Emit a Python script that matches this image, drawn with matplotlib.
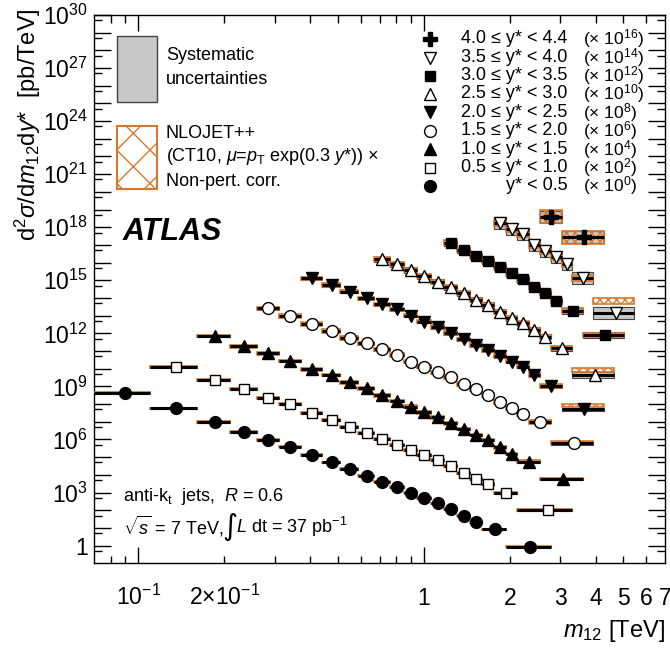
import numpy as np
import matplotlib
matplotlib.use('Agg')
import matplotlib.pyplot as plt
import matplotlib.transforms as mtransforms
from matplotlib.patches import Rectangle
from matplotlib.ticker import FixedLocator, FuncFormatter, NullFormatter

plt.rcParams['font.family'] = ['Liberation Sans', 'DejaVu Sans']
plt.rcParams['mathtext.fontset'] = 'custom'
plt.rcParams['mathtext.rm'] = 'Liberation Sans'
plt.rcParams['mathtext.it'] = 'Liberation Sans:italic'
plt.rcParams['mathtext.bf'] = 'Liberation Sans:bold'
plt.rcParams['hatch.linewidth'] = 1.0

# y* bins and the scale factor (10^n) each one is drawn with
ystar_lo = [0.0, 0.5, 1.0, 1.5, 2.0, 2.5, 3.0, 3.5, 4.0]
ystar_hi = [0.5, 1.0, 1.5, 2.0, 2.5, 3.0, 3.5, 4.0, 4.4]
scale_exp = [0, 2, 4, 6, 8, 10, 12, 14, 16]

# mass bin edges [TeV] and cross sections [pb/TeV] (unscaled)
edges_0 = [0.07, 0.11, 0.16, 0.21, 0.26, 0.31, 0.37, 0.44, 0.51, 0.59, 0.67, 0.76, 0.85, 0.95, 1.06, 1.18, 1.31, 1.45, 1.60, 1.94, 2.78]
xsec_0 = [4.4e8, 5.75e7, 1.0e7, 2.63e6, 9.3e5, 3.89e5, 1.32e5, 5.0e4, 2.09e4, 9.1e3, 4.17e3, 2.0e3, 980, 480, 245, 117, 49, 20.9, 8.3, 0.87]

edges_1 = [0.11, 0.16, 0.21, 0.26, 0.31, 0.37, 0.44, 0.51, 0.59, 0.67, 0.76, 0.85, 0.95, 1.06, 1.18, 1.31, 1.45, 1.60, 1.76, 2.12, 3.31]
xsec_1 = [1.29e8, 2.29e7, 6.9e6, 2.29e6, 9.8e5, 3.24e5, 1.26e5, 5.2e4, 2.34e4, 1.07e4, 5.1e3, 2.5e3, 1.29e3, 660, 316, 132, 57.5, 29.5, 9.1, 1.02]

edges_2 = [0.16, 0.21, 0.26, 0.31, 0.37, 0.44, 0.51, 0.59, 0.67, 0.76, 0.85, 0.95, 1.06, 1.18, 1.31, 1.45, 1.60, 1.76, 1.94, 2.12, 2.55, 3.61]
xsec_2 = [7.1e7, 1.9e7, 7.4e6, 2.75e6, 9.5e5, 4.4e5, 1.7e5, 7.8e4, 3.2e4, 1.48e4, 7.1e3, 3.5e3, 1.78e3, 813, 389, 178, 93, 36, 15.1, 5.5, 0.56]

edges_3 = [0.26, 0.31, 0.37, 0.44, 0.51, 0.59, 0.67, 0.76, 0.85, 0.95, 1.06, 1.18, 1.31, 1.45, 1.60, 1.76, 1.94, 2.12, 2.33, 2.78, 3.93]
xsec_3 = [2.57e7, 9.5e6, 3.39e6, 1.35e6, 5.6e5, 2.75e5, 1.26e5, 5.9e4, 2.51e4, 1.29e4, 6.3e3, 3.39e3, 1.35e3, 708, 324, 135, 57.5, 26.3, 10.0, 0.60]

edges_4 = [0.37, 0.44, 0.51, 0.59, 0.67, 0.76, 0.85, 0.95, 1.06, 1.18, 1.31, 1.45, 1.60, 1.76, 1.94, 2.12, 2.33, 2.55, 3.04, 4.27]
xsec_4 = [1.29e7, 5.4e6, 2.24e6, 9.5e5, 4.4e5, 2.29e5, 1.0e5, 4.6e4, 2.34e4, 1.05e4, 4.5e3, 2.19e3, 1.15e3, 525, 251, 129, 43.7, 10.5, 0.50]

edges_5 = [0.67, 0.76, 0.85, 0.95, 1.06, 1.18, 1.31, 1.45, 1.60, 1.76, 1.94, 2.12, 2.33, 2.55, 2.78, 3.31, 4.64]
xsec_5 = [1.58e6, 7.9e5, 3.8e5, 1.66e5, 8.3e4, 4.0e4, 1.82e4, 7.9e3, 4.0e3, 1.66e3, 708, 372, 155, 64.6, 14.1, 0.44]

edges_6 = [1.18, 1.31, 1.45, 1.60, 1.76, 1.94, 2.12, 2.33, 2.55, 2.78, 3.04, 3.61, 5.04]
xsec_6 = [1.32e5, 5.1e4, 2.34e4, 1.23e4, 5.9e3, 2.45e3, 1.12e3, 437, 200, 69, 19.1, 0.79]

edges_7 = [1.76, 1.94, 2.12, 2.33, 2.55, 2.78, 3.04, 3.31, 3.93, 5.47]
xsec_7 = [1.66e4, 7.6e3, 4.0e3, 977, 468, 214, 83, 12.9, 0.148]

edges_8 = [2.55, 3.04, 4.27]
xsec_8 = [389, 27]

# box half-heights as multiplicative factors, and NLO/data ratio of the last bin
sys_factor = [1.1, 1.12, 1.15, 1.2, 1.25, 1.4, 1.5, 2.2, 2.2]
nlo_factor = [1.1, 1.12, 1.2, 1.25, 1.25, 1.3, 1.35, 1.5, 2.3]
nlo_last_ratio = [1.0, 1.0, 1.05, 1.15, 1.7, 1.9, 1.0, 4.5, 1.0]

edges = [edges_0, edges_1, edges_2, edges_3, edges_4, edges_5, edges_6, edges_7, edges_8]
xsecs = [xsec_0, xsec_1, xsec_2, xsec_3, xsec_4, xsec_5, xsec_6, xsec_7, xsec_8]

markers = ['o', 's', '^', 'o', 'v', '^', 's', 'v', 'P']
filled = [True, False, True, False, True, False, True, False, True]
msizes = [8.5, 7.5, 9, 8.5, 9, 9, 7.5, 9, 9.5]

orange = '#d9782c'
gray = '#c8c8c8'

fig = plt.figure(figsize=(6.7, 6.54), dpi=100)
ax = fig.add_axes([0.1407, 0.1387, 0.8518, 0.8384])
ax.set_xscale('log')
ax.set_yscale('log')

for i in range(9):
    e = np.array(edges[i])
    lo, hi = e[:-1], e[1:]
    x = 0.5 * (lo + hi)
    y = np.array(xsecs[i]) * 10.0 ** scale_exp[i]
    # systematic uncertainties
    ax.bar(lo, y * sys_factor[i] - y / sys_factor[i], width=hi - lo, bottom=y / sys_factor[i],
           align='edge', color=gray, edgecolor='#444444', linewidth=0.8, zorder=2)
    # NLO prediction
    ratio = np.ones(len(y))
    ratio[-1] = nlo_last_ratio[i]
    yt = y * ratio
    ax.bar(lo, yt * nlo_factor[i] - yt / nlo_factor[i], width=hi - lo, bottom=yt / nlo_factor[i],
           align='edge', facecolor='none', edgecolor=orange, hatch='xxxx', linewidth=1.2, zorder=3)
    ax.errorbar(x, y, xerr=[x - lo, hi - x], fmt=markers[i], ms=msizes[i],
                mfc='black' if filled[i] else 'white', mec='black', mew=1.0,
                ecolor='black', elinewidth=2.2, capsize=0, zorder=4)

ax.set_xlim(0.07, 7.0)
ax.set_ylim(0.1, 1e30)

# axis ticks in ROOT style
ax.xaxis.set_major_locator(FixedLocator([0.1, 1.0]))
ax.xaxis.set_minor_locator(FixedLocator([0.08, 0.09, 0.2, 0.3, 0.4, 0.5, 0.6, 0.7, 0.8, 0.9, 2, 3, 4, 5, 6]))
ax.xaxis.set_major_formatter(NullFormatter())
ax.xaxis.set_minor_formatter(NullFormatter())

ax.yaxis.set_major_locator(FixedLocator([10.0 ** n for n in range(0, 31)]))
ax.yaxis.set_minor_locator(FixedLocator([5 * 10.0 ** n for n in range(-1, 30)]))


def ylab(v, pos):
    n = int(round(np.log10(v)))
    if n % 3:
        return ''
    if n == 0:
        return '1'
    return r'$10^{%d}$' % n


ax.yaxis.set_major_formatter(FuncFormatter(ylab))
ax.yaxis.set_minor_formatter(NullFormatter())
ax.tick_params(which='both', direction='in', top=True, right=True, width=1.0)
ax.tick_params(axis='y', which='major', length=12.2, labelsize=16.5, pad=4.5)
ax.tick_params(axis='y', which='minor', length=5.8)
ax.tick_params(axis='x', which='major', length=11.5)
ax.tick_params(axis='x', which='minor', length=5.4)
for s in ax.spines.values():
    s.set_linewidth(1.0)

xlab_pos = [0.1, 0.2, 1, 2, 3, 4, 5, 6, 7]
xlab_txt = [r'$10^{-1}$', r'$2{\times}10^{-1}$', '1', '2', '3', '4', '5', '6', '7']
trans = mtransforms.blended_transform_factory(ax.transData, ax.transAxes)
for p, t in zip(xlab_pos, xlab_txt):
    ax.text(p, -0.076, t, transform=trans, ha='center', va='baseline', fontsize=16.5, clip_on=False)

ax.text(1.0, -0.134, r'$m_{12}$ [TeV]', transform=ax.transAxes, ha='right', va='baseline', fontsize=17)
fig.text(0.042, 0.988, r'd$^{2}\sigma$/d$m_{12}$d$y$*  [pb/TeV]', rotation=90,
         ha='center', va='top', fontsize=17)

# legend for the y* bins
leg_y = [39, 57.7, 75.7, 94, 112.3, 130.7, 149.3, 167.7, 186]
for k, i in enumerate(range(8, -1, -1)):
    fy = (563.3 - leg_y[k]) / 548.3
    ax.plot([0.588], [fy], marker=markers[i], ms=msizes[i], mfc='black' if filled[i] else 'white',
            mec='black', mew=1.0, transform=ax.transAxes, clip_on=False)
    if ystar_lo[i] == 0.0:
        lab = 'y* < %.1f' % ystar_hi[i]
    else:
        lab = '%.1f \u2264 y* < %.1f' % (ystar_lo[i], ystar_hi[i])
    ax.text(0.829, fy, lab, transform=ax.transAxes, ha='right', va='center', fontsize=13)
    ax.text(0.856, fy, r'($\times$ 10$^{%d}$)' % scale_exp[i], transform=ax.transAxes,
            ha='left', va='center', fontsize=12.5)

# legend for the bands
ax.add_patch(Rectangle((0.0403, 0.8413), 0.0701, 0.1209, transform=ax.transAxes,
                       facecolor=gray, edgecolor='#444444', linewidth=1.0))
ax.text(0.1256, 0.927, 'Systematic', transform=ax.transAxes, va='center', fontsize=13)
ax.text(0.1256, 0.8827, 'uncertainties', transform=ax.transAxes, va='center', fontsize=13)
ax.add_patch(Rectangle((0.0403, 0.6821), 0.0701, 0.1155, transform=ax.transAxes,
                       facecolor='none', edgecolor=orange, hatch='x', linewidth=1.5))
ax.text(0.1256, 0.783, 'NLOJET++', transform=ax.transAxes, va='center', fontsize=13)
ax.text(0.1256, 0.741, r'(CT10, $\mu$=$p_{\rm T}$ exp(0.3 $y$*)) $\times$', transform=ax.transAxes,
        va='center', fontsize=13)
ax.text(0.1256, 0.697, 'Non-pert. corr.', transform=ax.transAxes, va='center', fontsize=13)

ax.text(0.0503, 0.604, 'ATLAS', transform=ax.transAxes, va='center', fontsize=22,
        fontweight='bold', fontstyle='italic')
ax.text(0.0503, 0.121, r'anti-k$_{\rm t}$  jets,  $R$ = 0.6', transform=ax.transAxes,
        va='center', fontsize=13)
ax.text(0.0503, 0.0663, r'$\sqrt{s}$ = 7 TeV,', transform=ax.transAxes,
        va='center', fontsize=13)
ax.text(0.2375, 0.0663, '\u222b', transform=ax.transAxes, va='center', ha='center',
        fontsize=21, family='DejaVu Sans')
ax.text(0.2485, 0.0663, r'$L$ dt = 37 pb$^{-1}$', transform=ax.transAxes,
        va='center', fontsize=13)

fig.savefig('out.png', dpi=100)
